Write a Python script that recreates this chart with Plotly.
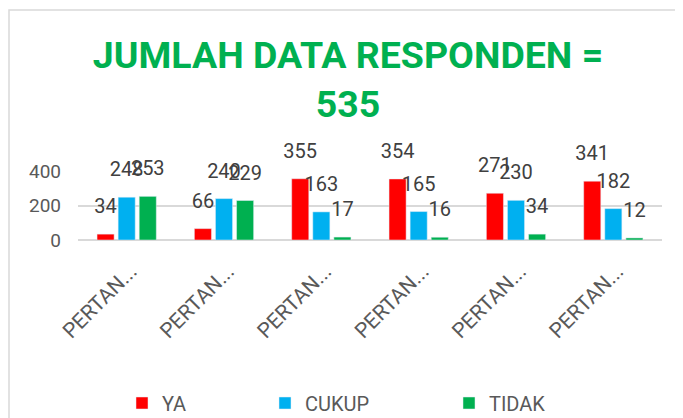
import plotly.graph_objects as go

categories = ["PERTANYAAN 1", "PERTANYAAN 2", "PERTANYAAN 3", "PERTANYAAN 4", "PERTANYAAN 5", "PERTANYAAN 6"]
tick_labels = ["PERTAN...", "PERTAN...", "PERTAN...", "PERTAN...", "PERTAN...", "PERTAN..."]
ya = [34, 66, 355, 354, 271, 341]
cukup = [248, 240, 163, 165, 230, 182]
tidak = [253, 229, 17, 16, 34, 12]
series_names = ["YA", "CUKUP", "TIDAK"]
series_values = [ya, cukup, tidak]
series_colors = ["#FF0000", "#00B0F0", "#00B050"]
title_text = "JUMLAH DATA RESPONDEN =<br>535"

# page body has an 8px default margin, so the figure is sized to fit inside the window
W, H = 675, 410
L, R, T, B = 70, 21, 163, 178
PW, PH = W - L - R, H - T - B


def px_x(p):
    return (p - L) / PW


def px_y(p):
    return (H - B - p) / PH


FONT = "Roboto, Liberation Sans, sans-serif"
fig = go.Figure()

legend_names = ["legend", "legend2", "legend3"]
legend_px = [114, 257, 441]

for i, (name, vals, col) in enumerate(zip(series_names, series_values, series_colors)):
    fig.add_trace(go.Bar(
        x=categories, y=vals, name=name, marker_color=col,
        offsetgroup=str(i), legend=legend_names[i], hoverinfo="skip",
    ))
for i, (name, vals, col) in enumerate(zip(series_names, series_values, series_colors)):
    fig.add_trace(go.Scatter(
        x=categories, y=vals, mode="markers+text", text=[str(v) for v in vals],
        textposition="top center", offsetgroup=str(i),
        marker=dict(size=24, opacity=0, color=col),
        textfont=dict(family=FONT, size=20, color="#404040"),
        showlegend=False, cliponaxis=False, hoverinfo="skip",
    ))

legend_common = dict(
    orientation="h", yanchor="middle", xanchor="left",
    xref="container", yref="container",
    font=dict(family=FONT, size=20, color="#595959"),
    bgcolor="rgba(0,0,0,0)",
)

fig.update_layout(
    width=W, height=H,
    margin=dict(l=L, r=R, t=T, b=B, autoexpand=False),
    paper_bgcolor="white", plot_bgcolor="white",
    barmode="group", bargap=0.35, bargroupgap=0.19,
    scattermode="group",
    title=dict(
        text=title_text, x=340 / W, xanchor="center", xref="container",
        y=1 - 60 / H, yanchor="top", yref="container",
        font=dict(family=FONT, size=37.5, color="#00B050", weight="bold"),
    ),
    xaxis=dict(
        tickmode="array", tickvals=categories, ticktext=tick_labels,
        tickangle=-45, ticklabelstandoff=14, ticklabelshift=4,
        showgrid=False, showline=False,
        ticks="", tickfont=dict(family=FONT, size=21, color="#595959"),
    ),
    yaxis=dict(
        range=[0, 400], tickvals=[0, 200, 400], showgrid=True,
        gridcolor="#D9D9D9", gridwidth=1.5, zeroline=True, zerolinecolor="#D9D9D9",
        zerolinewidth=1.5, showline=False, ticks="", ticklabelstandoff=16,
        tickfont=dict(family=FONT, size=19, color="#595959"),
    ),
    legend=dict(x=legend_px[0] / W, y=1 - 395 / H, **legend_common),
    legend2=dict(x=legend_px[1] / W, y=1 - 395 / H, **legend_common),
    legend3=dict(x=legend_px[2] / W, y=1 - 395 / H, **legend_common),
    showlegend=True,
    shapes=[dict(
        type="rect", xref="paper", yref="paper",
        x0=px_x(1), x1=px_x(720), y0=px_y(440), y1=px_y(2),
        line=dict(color="#D9D9D9", width=1.5), fillcolor="rgba(0,0,0,0)", layer="below",
    )],
)

fig.write_html("out.html")
